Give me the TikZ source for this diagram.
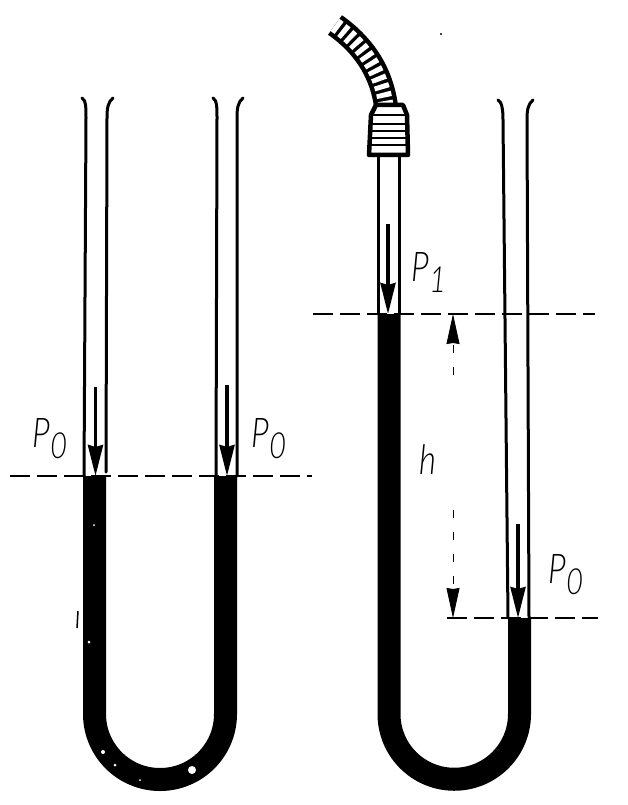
\documentclass[tikz,border=0pt]{standalone}
\usepackage{fontspec}
\usepackage{tikz}
\usetikzlibrary{arrows.meta}
\newfontfamily\labelfont[FakeStretch=0.8]{Lato Light}
\newcommand{\plabel}[1]{P\lower 11pt\hbox{\fontsize{36}{36}\selectfont #1}}
\tikzset{
	x=1pt,y=1pt,
	mercurystyle/.style={line width=23pt,line cap=butt},
	glassstyle/.style={line width=3pt,line cap=round},
	levelstyle/.style={line width=2pt,dash pattern=on 20pt off 7pt},
	pressurestyle/.style={line width=3.5pt,-{Stealth[length=31pt,width=15pt,inset=2pt]}},
	heightstyle/.style={line width=.8pt,dash pattern=on 8pt off 14pt,-{Stealth[length=30pt,width=13pt,inset=1pt]}},
	labelstyle/.style={inner sep=0pt,font=\labelfont\itshape\fontsize{41}{41}\selectfont}
}
\begin{document}
\begin{tikzpicture}
	\useasboundingbox (0,0) rectangle (627,-805);
	\node[labelstyle] (pa) at (50,-439) {\plabel{0}};
	\node[labelstyle] (pb) at (269,-439) {\plabel{0}};
	\node[labelstyle] (pc) at (429,-272) {\plabel{1}};
	\node[labelstyle] (pd) at (566,-575) {\plabel{0}};
	\node[labelstyle] (hh) at (428,-460) {h};
	\coordinate (pastart) at (95.5,-387);
	\coordinate (patip) at (95.5,-476);
	\coordinate (pbstart) at (227,-385);
	\coordinate (pbtip) at (227,-476);
	\coordinate (pcstart) at (388,-224);
	\coordinate (pctip) at (388,-314);
	\coordinate (pdstart) at (518,-524);
	\coordinate (pdtip) at (518,-618);
	\coordinate (levelal) at (10,-476);
	\coordinate (levelar) at (312,-476);
	\coordinate (levelbl) at (313,-314);
	\coordinate (levelbr) at (595,-314);
	\coordinate (levelcl) at (447,-618);
	\coordinate (levelcr) at (598,-618);
	\coordinate (hmidup) at (453,-375);
	\coordinate (hmiddown) at (453,-510);
	\coordinate (htop) at (453,-314);
	\coordinate (hbottom) at (453,-618);
	% mercury
	\draw[mercurystyle] (94.5,-476) -- (94.5,-714) arc[start angle=180,end angle=360,radius=65.5] -- (225.5,-476);
	\draw[mercurystyle] (389,-314) -- (389,-714) arc[start angle=180,end angle=360,radius=65.25] -- (519.5,-618);
	% specks
	\foreach \x/\y/\r in {103/752/2,115/765/1.5,140/780/1,192/770/4,89/642/1.5,94/525/1}
		\fill[white] (\x,-\y) circle (\r);
	\fill (441,-34) circle (1.2);
	\draw[line width=1.5pt] (78,-611) -- (77,-628);
	% glass
	\draw[glassstyle] (82,-98) .. controls (86,-100) and (86,-108) .. (86,-118) -- (84,-476);
	\draw[glassstyle] (113,-98) .. controls (108,-102) and (107,-108) .. (107,-118) -- (106,-472);
	\draw[glassstyle] (213,-98) .. controls (217,-100) and (217,-108) .. (217,-118) -- (216,-476);
	\draw[glassstyle] (243,-98) .. controls (238,-102) and (237,-108) .. (237,-118) -- (237,-476);
	\draw[glassstyle] (498,-100) .. controls (502,-102) and (503,-110) .. (503,-120) -- (508,-618);
	\draw[glassstyle] (533,-100) .. controls (528,-104) and (527,-110) .. (527,-120) -- (529,-618);
	\draw[glassstyle] (378,-155) -- (378,-314);
	\draw[glassstyle] (399,-155) -- (399,-314);
	% hose and collar
	\draw[line width=24pt] (335,-25) .. controls (362,-44) and (381,-70) .. (386,-106);
	\draw[white,line width=15pt,dash pattern=on 5pt off 3.5pt] (335,-25) .. controls (362,-44) and (381,-70) .. (386,-106);
	\draw[line width=4.5pt,line join=round,fill=white] (369,-155) -- (371,-115) -- (376,-105) -- (403,-105) -- (407,-115) -- (408,-155) -- cycle;
	\foreach \y in {115,124,131,138,145}
		\draw[line width=2.5pt] (371,-\y) -- (407,-\y);
	% levels
	\draw[levelstyle] (levelal) -- (levelar);
	\draw[levelstyle] (levelbl) -- (levelbr);
	\draw[levelstyle] (levelcl) -- (levelcr);
	% pressures
	\draw[pressurestyle] (pastart) -- (patip);
	\draw[pressurestyle] (pbstart) -- (pbtip);
	\draw[pressurestyle] (pcstart) -- (pctip);
	\draw[pressurestyle] (pdstart) -- (pdtip);
	% height
	\draw[heightstyle] (hmidup) -- (htop);
	\draw[heightstyle] (hmiddown) -- (hbottom);
\end{tikzpicture}
\end{document}
